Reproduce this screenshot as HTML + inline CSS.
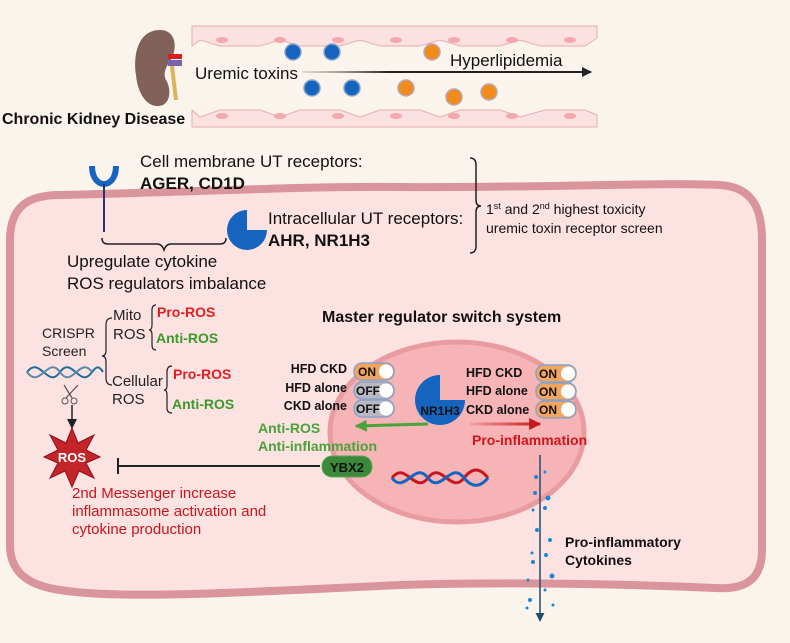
<!DOCTYPE html>
<html><head><meta charset="utf-8"><style>
html,body{margin:0;padding:0;background:#fbf4ec;}
svg{display:block;font-family:"Liberation Sans",sans-serif;}
</style></head><body>
<svg width="790" height="643" viewBox="0 0 790 643" xmlns="http://www.w3.org/2000/svg">
<defs>
<marker id="ab" viewBox="0 0 10 10" refX="9" refY="5" markerUnits="userSpaceOnUse" markerWidth="10" markerHeight="10" orient="auto"><path d="M0,0 L10,5 L0,10 z" fill="#222"/></marker>
<marker id="ag" viewBox="0 0 10 10" refX="9" refY="5" markerUnits="userSpaceOnUse" markerWidth="12" markerHeight="12" orient="auto"><path d="M0,0 L10,5 L0,10 z" fill="#4aa23a"/></marker>
<marker id="ar" viewBox="0 0 10 10" refX="9" refY="5" markerUnits="userSpaceOnUse" markerWidth="12" markerHeight="12" orient="auto"><path d="M0,0 L10,5 L0,10 z" fill="#c8161d"/></marker>
<marker id="ad" viewBox="0 0 10 10" refX="9" refY="5" markerUnits="userSpaceOnUse" markerWidth="9" markerHeight="9" orient="auto"><path d="M0,0 L10,5 L0,10 z" fill="#1d4e6e"/></marker>
<linearGradient id="gk" gradientUnits="userSpaceOnUse" x1="302" y1="0" x2="590" y2="0"><stop offset="0" stop-color="#999" stop-opacity="0.3"/><stop offset="0.3" stop-color="#222"/></linearGradient>
<linearGradient id="gr" gradientUnits="userSpaceOnUse" x1="468" y1="0" x2="540" y2="0"><stop offset="0" stop-color="#c8161d" stop-opacity="0.1"/><stop offset="1" stop-color="#c8161d"/></linearGradient>
</defs>
<rect width="790" height="643" fill="#fbf4ec"/>
<!-- vessel -->
<g fill="#fbe1e1" stroke="#e7aeb0" stroke-width="1">
<path d="M192,26 H597 V38 L585,46 H540 L520,40 L500,46 H460 L440,40 L420,46 H380 L360,40 L340,46 H300 L280,40 L260,46 H220 L200,40 L192,46 Z"/>
<path d="M192,127 H597 V115 L585,110 H545 L520,117 L500,110 H460 L440,117 L420,110 H380 L360,117 L340,110 H300 L280,117 L260,110 H220 L200,117 L192,110 Z"/>
</g>
<g fill="#f3a8ae"><ellipse cx="222" cy="40" rx="6" ry="3"/><ellipse cx="280" cy="40" rx="6" ry="3"/><ellipse cx="338" cy="40" rx="6" ry="3"/><ellipse cx="396" cy="40" rx="6" ry="3"/><ellipse cx="454" cy="40" rx="6" ry="3"/><ellipse cx="512" cy="40" rx="6" ry="3"/><ellipse cx="570" cy="40" rx="6" ry="3"/>
<ellipse cx="222" cy="116" rx="6" ry="3"/><ellipse cx="280" cy="116" rx="6" ry="3"/><ellipse cx="338" cy="116" rx="6" ry="3"/><ellipse cx="396" cy="116" rx="6" ry="3"/><ellipse cx="454" cy="116" rx="6" ry="3"/><ellipse cx="512" cy="116" rx="6" ry="3"/><ellipse cx="570" cy="116" rx="6" ry="3"/></g>
<!-- kidney -->
<path d="M160,30 C138,30 133,55 136,75 C138,97 150,110 163,105 C172,100 170,86 166,80 C162,72 168,64 172,58 C178,44 174,30 160,30Z" fill="#80625a"/>
<rect x="168" y="54" width="14" height="5" fill="#d82020"/><rect x="168" y="60" width="14" height="6" fill="#7a62b0"/>
<path d="M170,66 L174,100 L178,100 L174,66Z" fill="#d9b45a"/>
<!-- dots -->
<g stroke="#8aa2c8" stroke-width="1.5"><circle cx="293" cy="52" r="8" fill="#1565c0"/><circle cx="332" cy="52" r="8" fill="#1565c0"/><circle cx="312" cy="88" r="8" fill="#1565c0"/><circle cx="352" cy="88" r="8" fill="#1565c0"/></g>
<g stroke="#b7a9b6" stroke-width="1.5" fill="#f28a1c"><circle cx="432" cy="52" r="8"/><circle cx="406" cy="88" r="8"/><circle cx="454" cy="97" r="8"/><circle cx="489" cy="92" r="8"/></g>
<line x1="302" y1="72" x2="591" y2="72" stroke="url(#gk)" stroke-width="2" marker-end="url(#ab)"/>
<text x="195" y="79" font-size="17" fill="#111">Uremic toxins</text>
<text x="450" y="66" font-size="17" fill="#111">Hyperlipidemia</text>
<text x="2" y="124" font-size="16" font-weight="bold" fill="#111">Chronic Kidney Disease</text>
<!-- cell -->
<path d="M10,240 C10,205 30,195 60,195 C200,192 300,186 400,187 C550,188 650,182 720,185 C750,187 762,205 762,240 L762,550 C762,580 745,590 715,588 C600,583 500,582 400,585 C250,592 120,600 60,590 C25,585 10,570 10,545 Z" fill="#fde2e2" stroke="#d9959b" stroke-width="8"/>
<!-- receptor -->
<path d="M92,166 C92,190 116,190 116,166" fill="none" stroke="#1565c0" stroke-width="6"/>
<line x1="104" y1="184" x2="104" y2="232" stroke="#2a3170" stroke-width="2"/>
<text x="140" y="167" font-size="17" fill="#111">Cell membrane UT receptors:</text>
<text x="140" y="189" font-size="17" font-weight="bold" fill="#111">AGER, CD1D</text>
<path d="M247,230 L247,210 A20,20 0 1 0 267,230 Z" fill="#1565c0"/>
<text x="268" y="224" font-size="17" fill="#111">Intracellular UT receptors:</text>
<text x="268" y="246" font-size="17" font-weight="bold" fill="#111">AHR, NR1H3</text>
<path d="M470,158 Q476,158 476,165 L476,200 Q476,206 481,206 Q476,206 476,212 L476,246 Q476,253 470,253" fill="none" stroke="#222" stroke-width="1.5"/>
<text x="486" y="214" font-size="14" fill="#111">1<tspan font-size="9" dy="-5">st</tspan><tspan dy="5"> and 2</tspan><tspan font-size="9" dy="-5">nd</tspan><tspan dy="5"> highest toxicity</tspan></text>
<text x="486" y="233" font-size="14" fill="#111">uremic toxin receptor screen</text>
<path d="M102,238 Q102,244 108,244 L157,244 Q162,244 164,250 Q166,244 171,244 L220,244 Q226,244 226,238" fill="none" stroke="#222" stroke-width="1.5"/>
<text x="67" y="267" font-size="17" fill="#111">Upregulate cytokine</text>
<text x="67" y="289" font-size="17" fill="#111">ROS regulators imbalance</text>
<!-- CRISPR -->
<text x="322" y="322" font-size="16" font-weight="bold" fill="#111">Master regulator switch system</text>
<text x="42" y="338" font-size="14" fill="#222">CRISPR</text>
<text x="42" y="356" font-size="14" fill="#222">Screen</text>
<path d="M112,318 Q106,318 106,325 L106,350 Q106,356 102,356 Q106,356 106,362 L106,378 Q106,385 112,385" fill="none" stroke="#222" stroke-width="1.2"/>
<text x="113" y="320" font-size="15" fill="#222">Mito</text>
<text x="113" y="339" font-size="15" fill="#222">ROS</text>
<path d="M156,305 Q152,305 152,310 L152,325 Q152,330 149,330 Q152,330 152,335 L152,345 Q152,350 156,350" fill="none" stroke="#222" stroke-width="1.2"/>
<text x="157" y="317" font-size="14" font-weight="bold" fill="#e02020">Pro-ROS</text>
<text x="156" y="343" font-size="14" font-weight="bold" fill="#3a9a2a">Anti-ROS</text>
<text x="112" y="386" font-size="15" fill="#222">Cellular</text>
<text x="112" y="404" font-size="15" fill="#222">ROS</text>
<path d="M172,366 Q167,366 167,372 L167,386 Q167,390 164,390 Q167,390 167,395 L167,408 Q167,413 172,413" fill="none" stroke="#222" stroke-width="1.2"/>
<text x="173" y="379" font-size="14" font-weight="bold" fill="#e02020">Pro-ROS</text>
<text x="172" y="409" font-size="14" font-weight="bold" fill="#3a9a2a">Anti-ROS</text>
<path d="M27,372 C40,355 48,390 60,372 C72,355 80,390 92,372 C98,364 100,368 103,372" fill="none" stroke="#1d6e9a" stroke-width="2"/>
<path d="M27,372 C40,390 48,355 60,372 C72,390 80,355 92,372" fill="none" stroke="#5a8aa8" stroke-width="2"/>
<path d="M64,385 L72,398 M78,385 L66,398" stroke="#555" stroke-width="1.2"/><circle cx="65" cy="401" r="3" fill="none" stroke="#555"/><circle cx="74" cy="401" r="3" fill="none" stroke="#555"/>
<line x1="72" y1="405" x2="72" y2="428" stroke="#222" stroke-width="1.5" marker-end="url(#ab)"/>
<polygon points="72,428 78,443 94,435 86,450 100,457 86,463 94,478 79,471 72,487 65,471 50,478 58,463 44,457 58,450 50,435 66,443" fill="#c4252b" stroke="#8a1018"/>
<text x="72" y="462" font-size="13" font-weight="bold" fill="#fff" text-anchor="middle">ROS</text>
<text x="72" y="498" font-size="15" fill="#c8161d">2nd Messenger increase</text>
<text x="72" y="516" font-size="15" fill="#c8161d">inflammasome activation and</text>
<text x="72" y="534" font-size="15" fill="#c8161d">cytokine production</text>
<!-- nucleus -->
<ellipse cx="457" cy="432" rx="127" ry="90" fill="#f6b4b6" stroke="#e99ca0" stroke-width="5"/>
<line x1="320" y1="466" x2="118" y2="466" stroke="#222" stroke-width="2"/><line x1="118" y1="458" x2="118" y2="474" stroke="#222" stroke-width="2"/>
<rect x="322" y="456" width="50" height="21" rx="10" fill="#3b8a3b" stroke="#5aaa5a"/>
<text x="347" y="472" font-size="13" font-weight="bold" fill="#111" text-anchor="middle">YBX2</text>
<g font-size="12.5" font-weight="bold" fill="#111">
<text x="347" y="373" text-anchor="end">HFD CKD</text><text x="347" y="392" text-anchor="end">HFD alone</text><text x="347" y="410" text-anchor="end">CKD alone</text>
<text x="466" y="377">HFD CKD</text><text x="466" y="395">HFD alone</text><text x="466" y="414">CKD alone</text>
</g>
<g font-size="12" font-weight="bold" fill="#111">
<rect x="354" y="363" width="40" height="17" rx="8" fill="#f2a560" stroke="#8aa2c8" stroke-width="1.5"/><circle cx="386" cy="371.5" r="7" fill="#fff"/><text x="358" y="376">ON</text>
<rect x="354" y="382" width="40" height="17" rx="8" fill="#b9b9c4" stroke="#8aa2c8" stroke-width="1.5"/><circle cx="386" cy="390.5" r="7" fill="#fff"/><text x="356" y="395">OFF</text>
<rect x="354" y="400" width="40" height="17" rx="8" fill="#b9b9c4" stroke="#8aa2c8" stroke-width="1.5"/><circle cx="386" cy="408.5" r="7" fill="#fff"/><text x="356" y="413">OFF</text>
<rect x="536" y="365" width="40" height="17" rx="8" fill="#f2a560" stroke="#8aa2c8" stroke-width="1.5"/><circle cx="568" cy="373.5" r="7" fill="#fff"/><text x="539" y="378">ON</text>
<rect x="536" y="383" width="40" height="17" rx="8" fill="#f2a560" stroke="#8aa2c8" stroke-width="1.5"/><circle cx="568" cy="391.5" r="7" fill="#fff"/><text x="539" y="396">ON</text>
<rect x="536" y="401" width="40" height="17" rx="8" fill="#f2a560" stroke="#8aa2c8" stroke-width="1.5"/><circle cx="568" cy="409.5" r="7" fill="#fff"/><text x="539" y="414">ON</text>
</g>
<path d="M440,400 L440,375 A25,25 0 1 0 465,400 Z" fill="#1565c0"/>
<text x="440" y="415" font-size="12" font-weight="bold" fill="#111" text-anchor="middle">NR1H3</text>
<line x1="428" y1="424" x2="356" y2="426" stroke="#4aa23a" stroke-width="3" marker-end="url(#ag)"/>
<line x1="470" y1="424" x2="540" y2="424" stroke="url(#gr)" stroke-width="3" marker-end="url(#ar)"/>
<text x="258" y="433" font-size="14" font-weight="bold" fill="#4aa23a">Anti-ROS</text>
<text x="258" y="451" font-size="14" font-weight="bold" fill="#4aa23a">Anti-inflammation</text>
<text x="472" y="445" font-size="14" font-weight="bold" fill="#d0161d">Pro-inflammation</text>
<path d="M392,478 C405,460 415,495 428,478 C441,460 451,495 464,478 C474,465 482,470 488,478" fill="none" stroke="#c8161d" stroke-width="3"/>
<path d="M392,478 C405,495 415,460 428,478 C441,495 451,460 464,478 C474,490 482,485 488,478" fill="none" stroke="#1565c0" stroke-width="3"/>
<!-- cytokines -->
<line x1="540" y1="455" x2="540" y2="621" stroke="#1d4e6e" stroke-width="1.5" marker-end="url(#ad)"/>
<g fill="#1f86d0"><circle cx="536" cy="477" r="2"/><circle cx="545" cy="472" r="1.5"/><circle cx="535" cy="493" r="2"/><circle cx="548" cy="498" r="2.5"/><circle cx="533" cy="510" r="1.5"/><circle cx="545" cy="508" r="2"/><circle cx="537" cy="530" r="2"/><circle cx="550" cy="540" r="2"/><circle cx="532" cy="553" r="1.5"/><circle cx="546" cy="555" r="2"/><circle cx="533" cy="562" r="2"/><circle cx="552" cy="576" r="2.5"/><circle cx="528" cy="580" r="1.5"/><circle cx="545" cy="590" r="1.5"/><circle cx="530" cy="600" r="2"/><circle cx="553" cy="605" r="1.5"/><circle cx="527" cy="608" r="1.5"/></g>
<text x="565" y="547" font-size="14" font-weight="bold" fill="#111">Pro-inflammatory</text>
<text x="565" y="565" font-size="14" font-weight="bold" fill="#111">Cytokines</text>
</svg>
</body></html>
